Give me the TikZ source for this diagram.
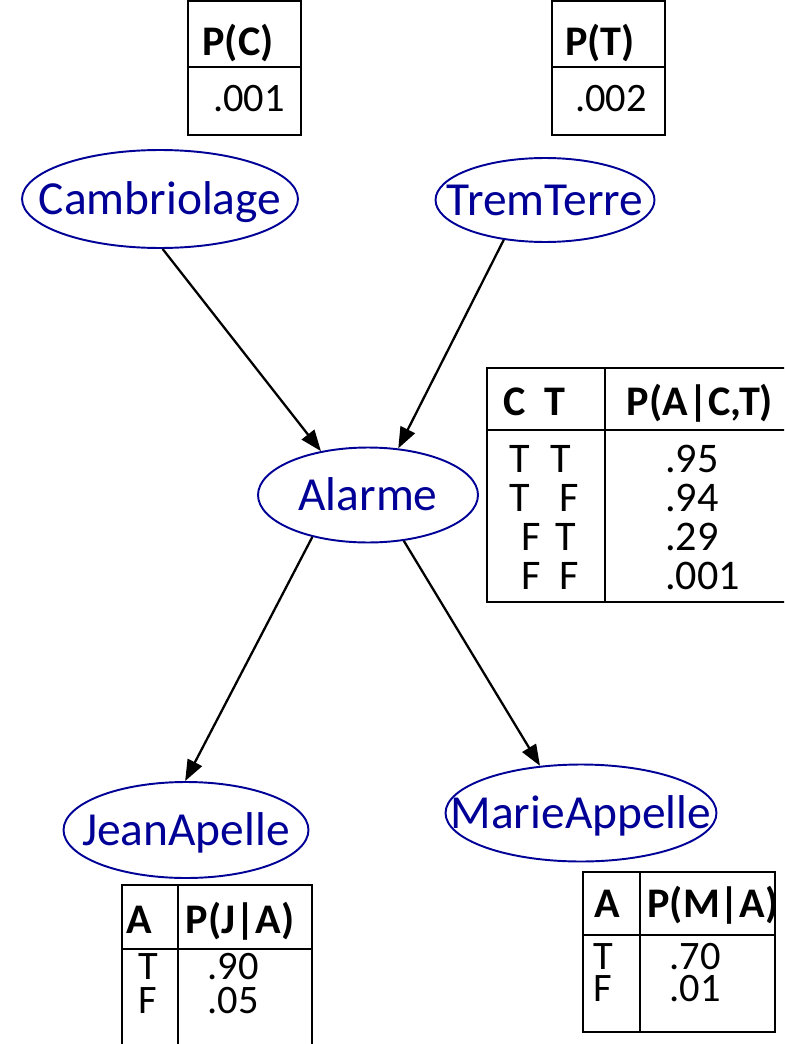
\documentclass[tikz,border=0pt]{standalone}
\usepackage{fontspec}
\setmainfont{Carlito}
\usetikzlibrary{shapes.geometric,arrows.meta}
\definecolor{netblue}{RGB}{0,0,150}
% node text without width, so the ellipse keeps its given size
\newcommand{\varname}[1]{\makebox[0pt]{#1}}

\begin{document}
\begin{tikzpicture}[x=0.02cm, y=-0.02cm,
    var/.style={ellipse, draw=netblue, text=netblue, line width=1.1pt, inner sep=0pt,
      text height=17.5pt, text depth=0pt, font=\fontsize{27}{30}\selectfont},
    edge/.style={-{Triangle[length=12pt,width=9pt]}, line width=1.3pt},
    grid/.style={line width=1.1pt},
    cell/.style={inner sep=0pt, anchor=base, font=\fontsize{23}{24}\selectfont},
    head/.style={cell, font=\fontsize{24}{24}\selectfont\bfseries},
    bigcell/.style={cell, font=\fontsize{24}{24}\selectfont}]
  \useasboundingbox (0,0) rectangle (784,1044);
  \clip (0,0) rectangle (784,1044);

  % variables of the network
  \node[var, minimum width=5.52cm, minimum height=1.96cm] (camb) at (160,199) {\varname{Cambriolage}};
  \node[var, minimum width=4.38cm, minimum height=1.68cm] (trem) at (545,200) {\varname{TremTerre}};
  \node[var, minimum width=4.4cm, minimum height=1.9cm] (alarme) at (368,495) {\varname{Alarme}};
  \node[var, minimum width=4.9cm, minimum height=1.92cm] (jean) at (186,830) {\varname{JeanApelle}};
  \node[var, minimum width=5.42cm, minimum height=1.94cm] (marie) at (581,813) {\varname{MarieAppelle}};

  \draw[edge] (camb.-87) -- (alarme.137);
  \draw[edge] (trem.-136) -- (alarme.57);
  \draw[edge] (alarme.-143) -- (jean.91);
  \draw[edge] (alarme.-52) -- (marie.131);

  % P(C)
  \draw[grid] (188,1) rectangle (301,135);
  \draw[grid] (188,67) -- (301,67);
  \node[head] (pc) at (238,56) {P(C)};
  \node[cell] (pcval) at (249,112) {.001};

  % P(T)
  \draw[grid] (552,1) rectangle (665,135);
  \draw[grid] (552,67) -- (665,67);
  \node[head] (pt) at (600,56) {P(T)};
  \node[cell] (ptval) at (611,112) {.002};

  % P(A|C,T)
  \draw[grid] (487,368) rectangle (790,602);
  \draw[grid] (605,368) -- (605,602);
  \draw[grid] (487,430) -- (790,430);
  \node[head, anchor=base west] (pahead) at (503,415) {C\ \ T};
  \node[head] (pa) at (700,415) {P(A|C,T)};
  \node[bigcell] (c1) at (520,472) {T};
  \node[bigcell] (t1) at (561,472) {T};
  \node[bigcell] (c2) at (520,511) {T};
  \node[bigcell] (t2) at (569,511) {F};
  \node[bigcell] (c3) at (531,550) {F};
  \node[bigcell] (t3) at (566,550) {T};
  \node[bigcell] (c4) at (531,589) {F};
  \node[bigcell] (t4) at (569,589) {F};
  \node[bigcell, anchor=base west] (pa1) at (665,472) {.95};
  \node[bigcell, anchor=base west] (pa2) at (665,511) {.94};
  \node[bigcell, anchor=base west] (pa3) at (665,550) {.29};
  \node[bigcell, anchor=base west] (pa4) at (665,589) {.001};

  % P(J|A)
  \draw[grid] (122,885) rectangle (312,1050);
  \draw[grid] (178,885) -- (178,1050);
  \draw[grid] (122,949) -- (312,949);
  \node[head] (jhead) at (139,933) {A};
  \node[head] (pj) at (240,933) {P(J|A)};
  \node[cell] (ja1) at (148,979) {T};
  \node[cell] (ja2) at (148,1013) {F};
  \node[cell] (pj1) at (233,979) {.90};
  \node[cell] (pj2) at (233,1013) {.05};

  % P(M|A)
  \draw[grid] (583,872) rectangle (775,1032);
  \draw[grid] (640,872) -- (640,1032);
  \draw[grid] (583,935) -- (775,935);
  \node[head] (mhead) at (607,917) {A};
  \node[head] (pm) at (713,917) {P(M|A)};
  \node[cell] (ma1) at (603,969) {T};
  \node[cell] (ma2) at (603,1001) {F};
  \node[cell] (pm1) at (695,969) {.70};
  \node[cell] (pm2) at (695,1001) {.01};
\end{tikzpicture}
\end{document}
